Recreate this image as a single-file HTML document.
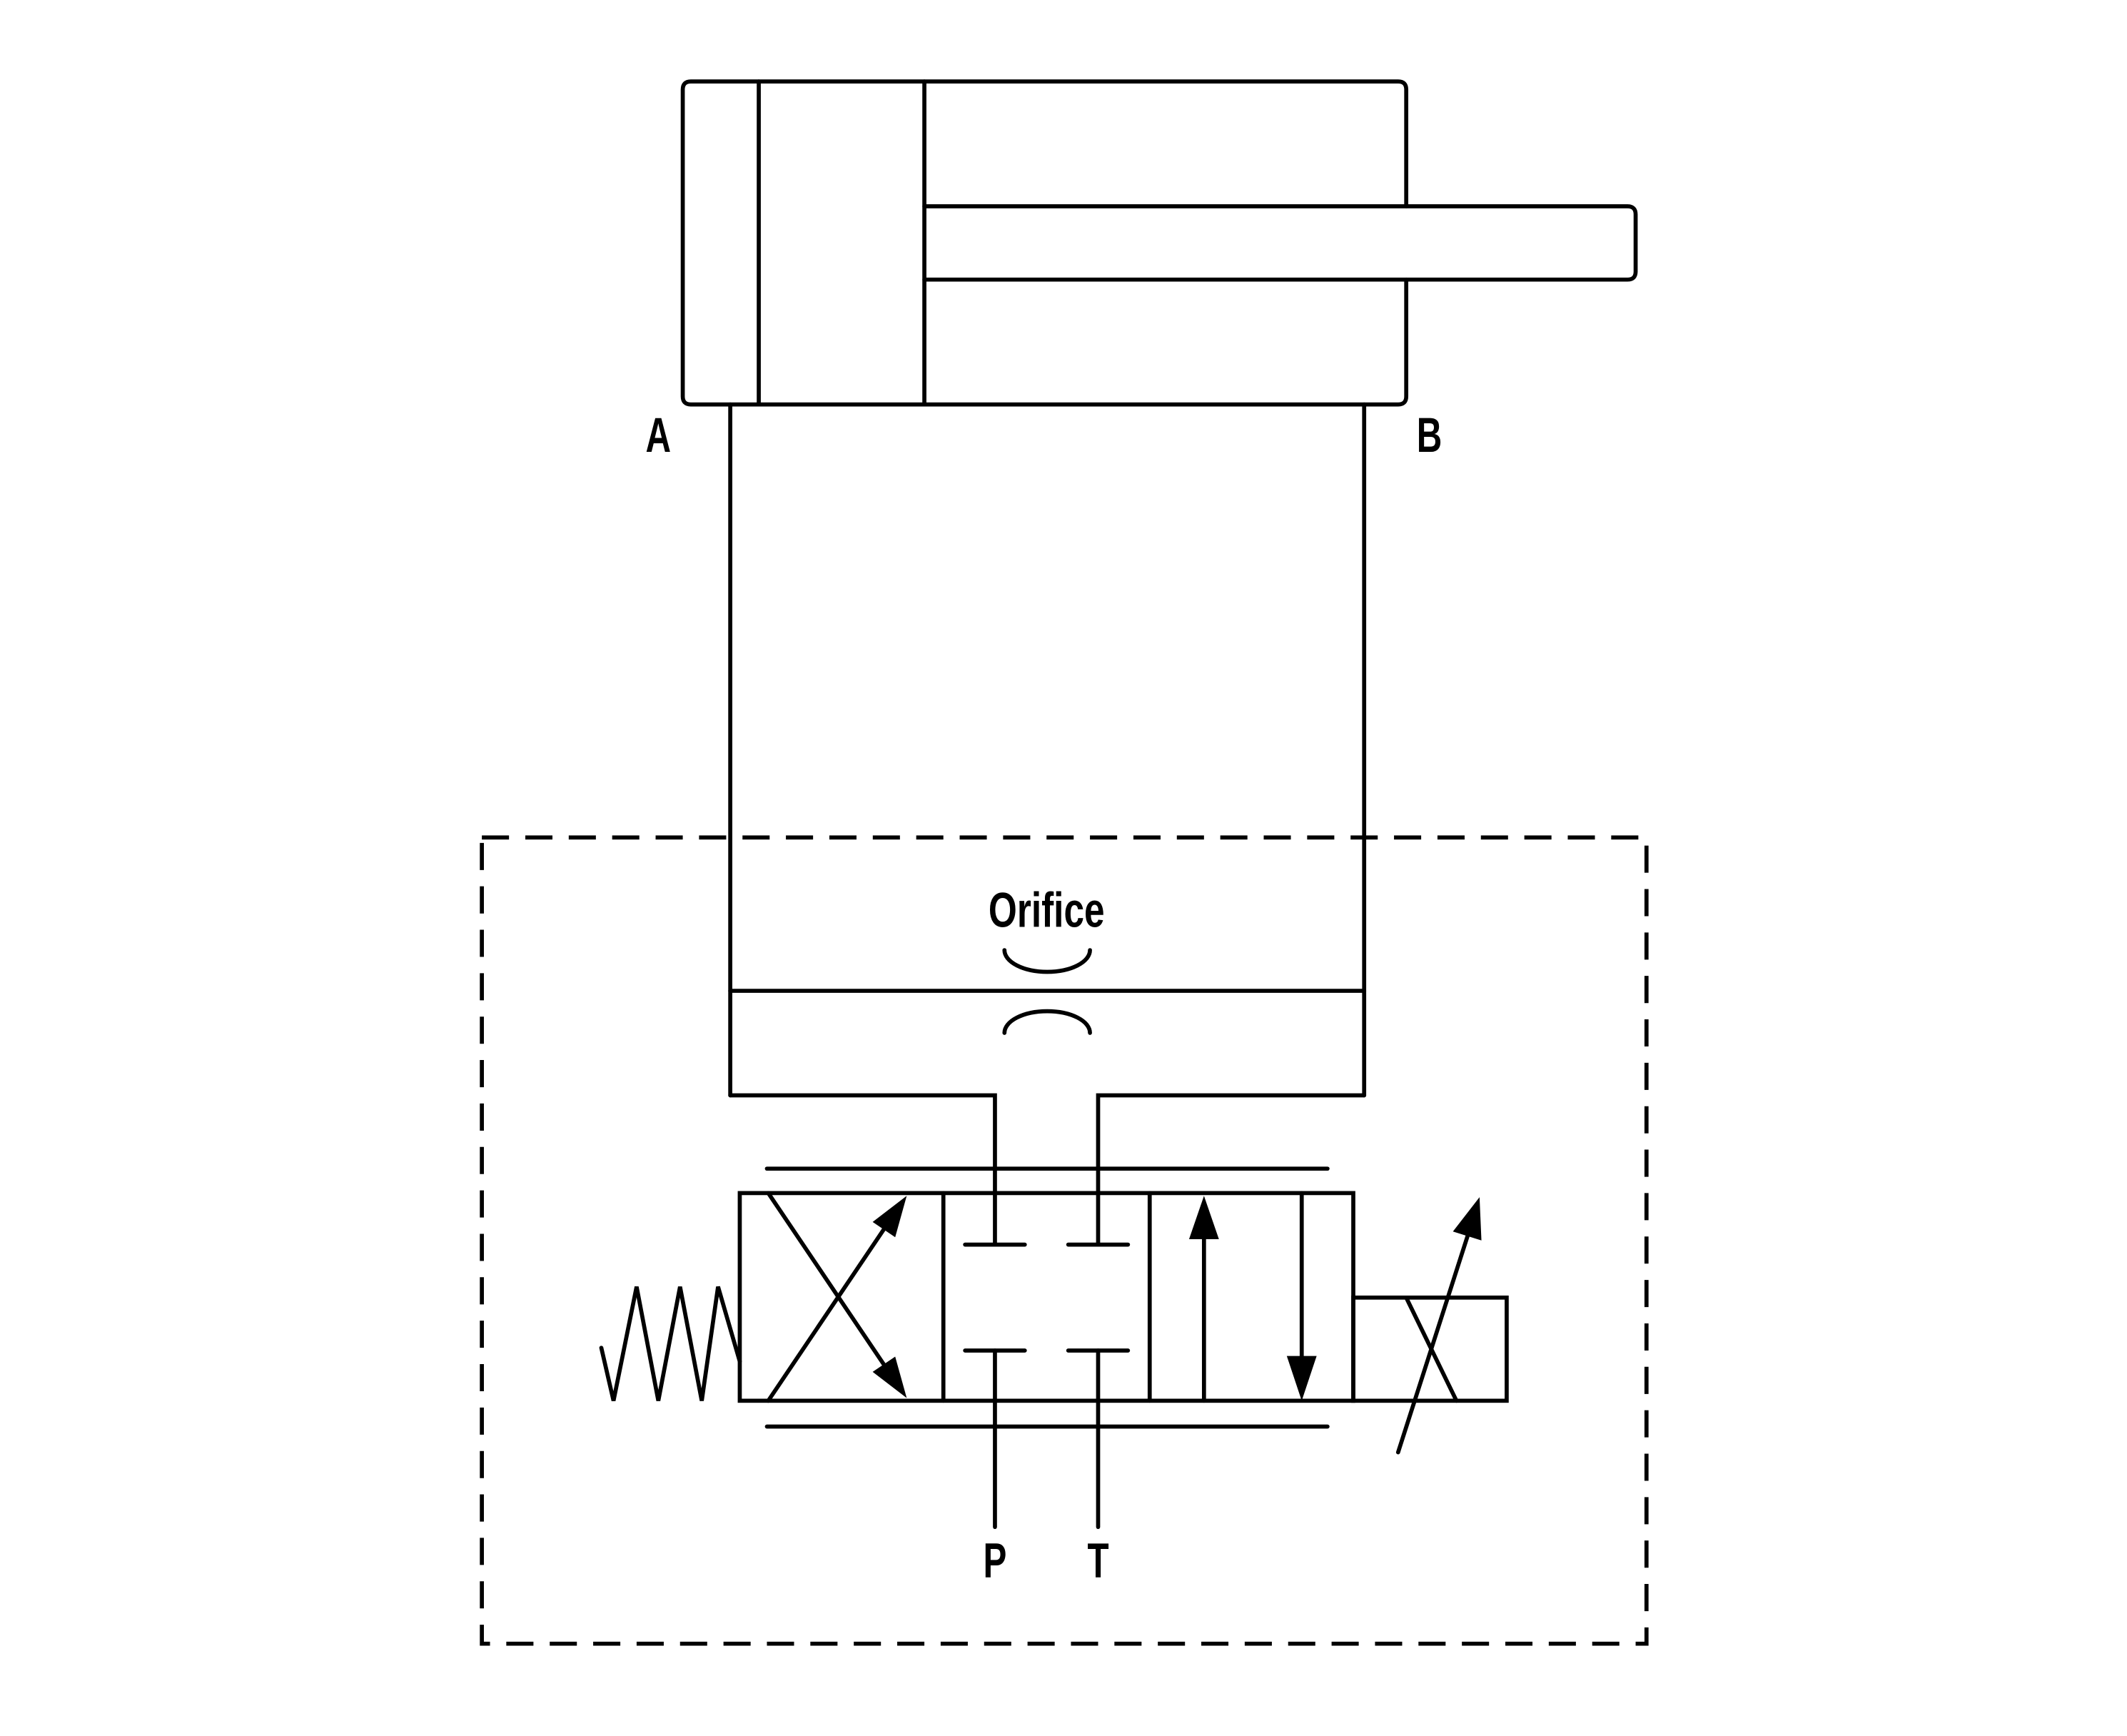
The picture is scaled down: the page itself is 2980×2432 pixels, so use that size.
<!DOCTYPE html>
<html><head><meta charset="utf-8"><style>
html,body{margin:0;padding:0;background:#fff;}
svg{display:block;}
text{font-family:"Liberation Sans",sans-serif;font-weight:bold;fill:#000;}
</style></head><body>
<svg width="2980" height="2432" viewBox="0 0 1567 1279" preserveAspectRatio="none" xmlns="http://www.w3.org/2000/svg">
<g fill="none" stroke="#000" stroke-width="3" stroke-linecap="round" stroke-linejoin="miter">
<path d="M1036,152 V66 Q1036,60 1030,60 H509 Q503,60 503,66 V292 Q503,298 509,298 H1030 Q1036,298 1036,292 V206"/>
<line x1="559" y1="60" x2="559" y2="298"/>
<line x1="681" y1="60" x2="681" y2="298"/>
<path d="M681,152 H1199 Q1205,152 1205,158 V200 Q1205,206 1199,206 H681"/>
<line x1="538" y1="298" x2="538" y2="807"/>
<line x1="1005" y1="298" x2="1005" y2="807"/>
<line x1="538" y1="730" x2="1005" y2="730"/>
<path d="M538,807 H733 V917"/>
<path d="M1005,807 H809 V917"/>
<path d="M740,700 A31.5,16 0 0 0 803,700"/>
<path d="M740,761 A31.5,16 0 0 1 803,761"/>
<rect x="355" y="617" width="858" height="594" stroke-dasharray="20 12" stroke-linecap="butt"/>
<rect x="545" y="879" width="452" height="153"/>
<line x1="695" y1="879" x2="695" y2="1032"/>
<line x1="847" y1="879" x2="847" y2="1032"/>
<line x1="565" y1="861" x2="978" y2="861"/>
<line x1="565" y1="1051" x2="978" y2="1051"/>
<line x1="566" y1="879" x2="655" y2="1011"/>
<line x1="566" y1="1032" x2="655" y2="900"/>
<line x1="711" y1="917" x2="755" y2="917"/>
<line x1="787" y1="917" x2="831" y2="917"/>
<line x1="711" y1="995" x2="755" y2="995"/>
<line x1="787" y1="995" x2="831" y2="995"/>
<line x1="733" y1="995" x2="733" y2="1125"/>
<line x1="809" y1="995" x2="809" y2="1125"/>
<line x1="887" y1="1032" x2="887" y2="905"/>
<line x1="959" y1="879" x2="959" y2="1005"/>
<polyline points="443,993 452,1032 469,948 485,1032 501,948 517,1032 529,948 545,1003"/>
<rect x="997" y="956" width="113" height="76"/>
<line x1="1036" y1="956" x2="1073" y2="1032"/>
<line x1="1030" y1="1070" x2="1083" y2="905"/>
</g>
<g fill="#000">
<polygon points="668,1030 642.9,1010.7 659.5,999.5"/>
<polygon points="668,881 659.5,911.5 642.9,900.3"/>
<polygon points="887,881 876,913 898,913"/>
<polygon points="959,1032 948,999 970,999"/>
<polygon points="1090,882 1091.4,913.9 1070.4,907.3"/>
</g>
<text transform="translate(485,333) scale(0.72,1)" font-size="36" text-anchor="middle">A</text>
<text transform="translate(1053,333) scale(0.72,1)" font-size="36" text-anchor="middle">B</text>
<text transform="translate(771,683) scale(0.75,1)" font-size="36" text-anchor="middle">Orifice</text>
<text transform="translate(733,1162) scale(0.72,1)" font-size="36" text-anchor="middle">P</text>
<text transform="translate(809,1162) scale(0.72,1)" font-size="36" text-anchor="middle">T</text>
</svg>
</body></html>
